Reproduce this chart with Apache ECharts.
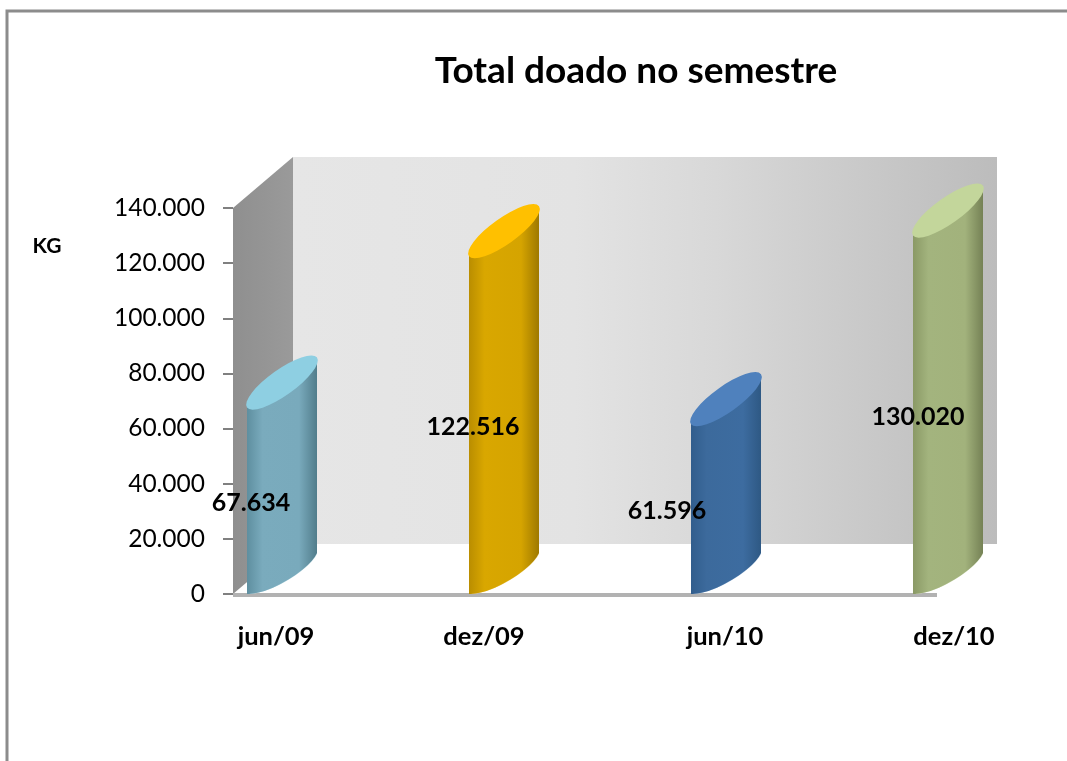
<!DOCTYPE html>
<html><head><meta charset="utf-8">
<style>html,body{margin:0;padding:0;background:#fff}#c{width:1067px;height:761px}</style>
<script src="https://cdn.jsdelivr.net/npm/echarts@6/dist/echarts.min.js"></script>
</head><body><div id="c"></div>
<script>
const categories = ['jun/09', 'dez/09', 'jun/10', 'dez/10'];
const values = [67634, 122516, 61596, 130020];
const bodyColors = [
  ['#4f7f8f', '#7aabbd', '#79aabc', '#4c7785'],
  ['#a87f00', '#d9a700', '#d5a400', '#977300'],
  ['#2b5684', '#3c6a9c', '#3d6ca0', '#2c5680'],
  ['#7c8a58', '#a3b47e', '#a2b27c', '#6f7b50']
];
const topColors = ['#8ecfe2', '#ffc000', '#4f81bd', '#c3d69b'];
const fringeColors = ['#c3e0e8', '#f0d890', '#b9cde3', '#dbe5c8'];
const labelShift = [-23, -23, -51, -22];

function fmt(v){ return v === 0 ? '0' : (v/1000).toFixed(3); }

const chart = echarts.init(document.getElementById('c'), null, {renderer:'canvas'});

function renderCyl(params, api){
  const i = api.value(0);
  const [cx, y] = api.coord([i, api.value(1)]);
  const [, y0] = api.coord([i, 0]);
  const l = cx - 27, r = cx + 43, dy = 50;
  const rx = 43, ry = 13, rot = -35.5;
  const arcTop = `M${l} ${y} A${rx} ${ry} ${rot} 1 1 ${r} ${y-dy} A${rx} ${ry} ${rot} 1 1 ${l} ${y}Z`;
  const body = `M${l} ${y} L${l} ${y0} A45 15 -30 0 0 ${r} ${y0-41} L${r} ${y-dy} Z`;
  const fringe = `M${l+3} ${y0} A45 15 -30 0 0 ${r} ${y0-40} L${r} ${y0-50} L${l+3} ${y0-10} Z`;
  const c = bodyColors[i];
  return {type:'group', children:[
    {type:'path', shape:{pathData:fringe}, style:{fill:fringeColors[i]}},
    {type:'path', shape:{pathData:body}, style:{fill:{type:'linear',x:0,y:0,x2:1,y2:0,colorStops:[
      {offset:0,color:c[0]},{offset:0.3,color:c[1]},{offset:0.75,color:c[2]},{offset:1,color:c[3]}]}}},
    {type:'path', shape:{pathData:arcTop}, style:{fill:topColors[i]}},
    {type:'text', z2:10, style:{text:fmt(api.value(1)), x:cx+labelShift[i], y:(y+y0)/2+2,
      align:'center', verticalAlign:'middle', fontFamily:'Lato', fontWeight:'bold', fontSize:25, fill:'#000'}}
  ]};
}

const catStyle = {fontFamily:'Lato', fontWeight:'bold', fontSize:25.5, color:'#000'};

chart.setOption({
  animation:false,
  backgroundColor:'#fff',
  title:{text:'Total doado no semestre', left:631, top:66, textAlign:'center', textVerticalAlign:'middle',
    textStyle:{fontFamily:'Lato', fontWeight:'bold', fontSize:37, color:'#000'}},
  grid:{left:274, top:208, width:666, height:386, containLabel:false},
  xAxis:{type:'category', data:categories, boundaryGap:false,
    axisLine:{show:false}, axisTick:{show:false},
    axisLabel:{interval:0, margin:30, ...catStyle,
      formatter:(v,i)=> '{'+'abcd'[i]+'|'+v+'}',
      rich:{
        a:{...catStyle, padding:[0,0,0,4]},
        b:{...catStyle, padding:[0,24,0,0]},
        c:{...catStyle, padding:[0,0,0,14]},
        d:{...catStyle, padding:[0,0,0,28]}
      }}},
  yAxis:{type:'value', min:0, max:140000, interval:20000, offset:41,
    axisLine:{show:false},
    axisTick:{show:true, length:10, lineStyle:{color:'#808080', width:2}},
    splitLine:{show:false},
    axisLabel:{margin:28, fontFamily:'Lato', fontSize:24.5, color:'#000', formatter:v=>fmt(v)}},
  graphic:[
    {type:'polyline', silent:true, z:-10, shape:{points:[[7,761],[7,11],[1067,11]]}, style:{fill:'none', stroke:'#8c8c8c', lineWidth:3}},
    {type:'polygon', silent:true, z:-9, shape:{points:[[233,208],[293,157],[293,543],[233,594]]},
      style:{fill:{type:'linear',x:0,y:0,x2:1,y2:0,colorStops:[{offset:0,color:'#8f8f8f'},{offset:1,color:'#9a9a9a'}]}}},
    {type:'rect', silent:true, z:-9, shape:{x:293,y:157,width:704,height:387},
      style:{fill:{type:'linear',x:0,y:0,x2:1,y2:0,colorStops:[{offset:0,color:'#e6e6e6'},{offset:0.4,color:'#e3e3e3'},{offset:0.6,color:'#d8d8d8'},{offset:1,color:'#bcbcbc'}]}}},
    {type:'rect', silent:true, z:-8, shape:{x:233,y:593,width:704,height:4}, style:{fill:'#b2b2b2'}},
    {type:'text', silent:true, z:5, style:{text:'KG', x:47, y:246, align:'center', verticalAlign:'middle', fontFamily:'Lato', fontWeight:'bold', fontSize:21, fill:'#000'}}
  ],
  series:[{type:'custom', data:values.map((v,i)=>[i,v]), clip:false, encode:{x:0,y:1}, renderItem:renderCyl, z:5}]
});
</script></body></html>
